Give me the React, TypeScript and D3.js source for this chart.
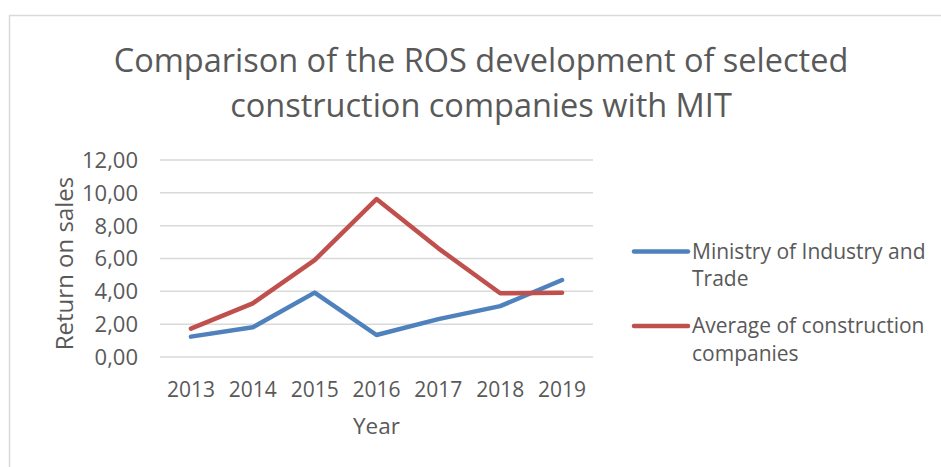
import React from "react";
import * as d3 from "d3";

const years = ["2013", "2014", "2015", "2016", "2017", "2018", "2019"];
const mitValues = [1.24, 1.81, 3.92, 1.34, 2.31, 3.1, 4.69];
const avgValues = [1.73, 3.27, 5.9, 9.62, 6.62, 3.88, 3.92];
const yTicks = [0, 2, 4, 6, 8, 10, 12];
const seriesNames = [["Ministry of Industry and", "Trade"], ["Average of construction", "companies"]];
const titleLines = ["Comparison of the ROS development of selected", "construction companies with MIT"];

const W = 941;
const H = 467;
const FONT = "'Open Sans', sans-serif";
const TEXT = "#595959";
const COLORS = ["#4F81BD", "#C0504D"];

export default function App() {
  const x = d3.scaleBand<string>().domain(years).range([160, 593]);
  const y = d3.scaleLinear().domain([0, 12]).range([357, 160]);
  const cx = (d: string) => (x(d) as number) + x.bandwidth() / 2;
  const line = d3
    .line<number>()
    .x((_, i) => cx(years[i]))
    .y((v) => y(v));
  const fmt = (v: number) => d3.format(".2f")(v).replace(".", ",");
  const series = [mitValues, avgValues];
  const legendY = [251.5, 326];

  return (
    <svg
      width={W}
      height={H}
      style={{ position: "absolute", left: 0, top: 0, background: "#fff" }}
      fontFamily={FONT}
    >
      <rect x={0} y={0} width={W} height={H} fill="#fff" />
      <path d={`M9.5,${H + 5}V15.5H${W + 5}`} fill="none" stroke="#D9D9D9" strokeWidth={1.5} />
      {titleLines.map((t, i) => (
        <text key={t} x={481} y={71.5 + i * 45.5} textAnchor="middle" fontSize={32.5} fill={TEXT}>
          {t}
        </text>
      ))}
      {yTicks.map((t) => (
        <g key={t}>
          <line x1={160} x2={593} y1={y(t)} y2={y(t)} stroke="#D9D9D9" strokeWidth={1.5} />
          <text x={138} y={y(t)} dy="0.36em" textAnchor="end" fontSize={22} fill={TEXT}>
            {fmt(t)}
          </text>
        </g>
      ))}
      {years.map((yr) => (
        <text key={yr} x={cx(yr)} y={396.5} textAnchor="middle" fontSize={21} fill={TEXT}>
          {yr}
        </text>
      ))}
      <text x={376.5} y={434} textAnchor="middle" fontSize={22.5} fill={TEXT}>
        Year
      </text>
      <text
        transform={`translate(73,263.5) rotate(-90)`}
        textAnchor="middle"
        fontSize={24}
        fill={TEXT}
      >
        Return on sales
      </text>
      {series.map((s, i) => (
        <path
          key={i}
          d={line(s) as string}
          fill="none"
          stroke={COLORS[i]}
          strokeWidth={4.5}
          strokeLinecap="round"
          strokeLinejoin="round"
        />
      ))}
      {seriesNames.map((lines, i) => (
        <g key={i}>
          <line
            x1={634}
            x2={688}
            y1={legendY[i]}
            y2={legendY[i]}
            stroke={COLORS[i]}
            strokeWidth={4.5}
            strokeLinecap="round"
          />
          {lines.map((l, j) => (
            <text key={l} x={692} y={legendY[i] + 7 + j * 27.5} fontSize={21} fill={TEXT}>
              {l}
            </text>
          ))}
        </g>
      ))}
    </svg>
  );
}
